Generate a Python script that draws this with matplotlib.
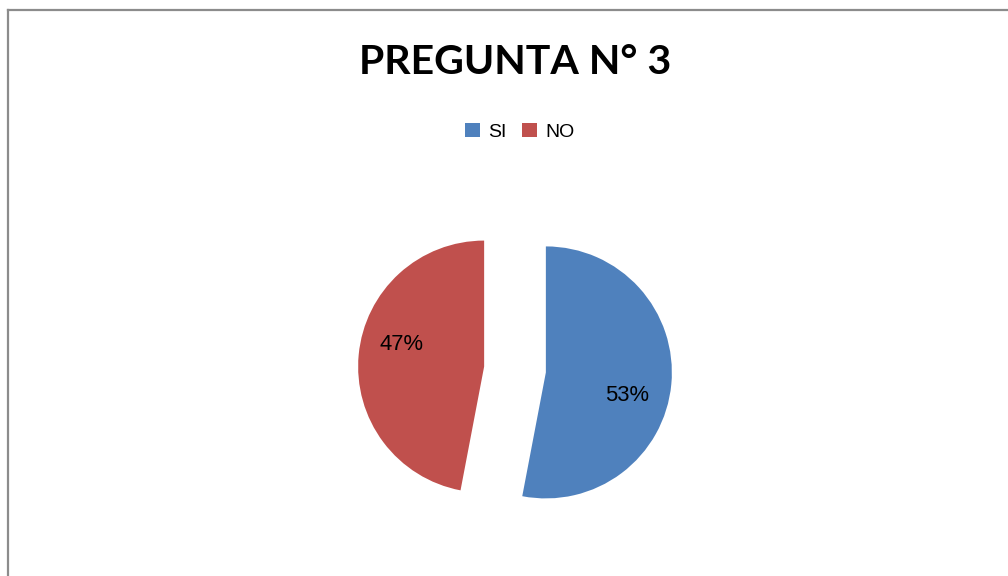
import matplotlib
matplotlib.use("Agg")
import matplotlib.pyplot as plt
from matplotlib.patches import Rectangle
from matplotlib.lines import Line2D

title = "PREGUNTA N° 3"
categories = ["SI", "NO"]
values = [53, 47]
colors = ["#4F81BD", "#C0504D"]

W, H = 1008, 576
fig = plt.figure(figsize=(W / 100, H / 100), dpi=100)
ax = fig.add_axes([0, 0, 1, 1])
ax.set_xlim(0, W)
ax.set_ylim(0, H)
ax.set_aspect("equal")
ax.axis("off")

# border (top and left visible)
ax.add_line(Line2D([8, 8], [0, H - 10], color="#8c8c8c", lw=1.6))
ax.add_line(Line2D([8, W], [H - 10, H - 10], color="#8c8c8c", lw=1.6))

cx, cy, r = 515, H - 369.5, 126
explode_px = 31
wedges, _ = ax.pie(values, colors=colors, startangle=90, counterclock=False,
                   explode=[explode_px, explode_px], center=(cx, cy), radius=r,
                   wedgeprops=dict(linewidth=0))
ax.set_xlim(0, W)
ax.set_ylim(0, H)

# percentage labels
label_offsets = [(81, -23), (-83, 22)]
for w, v, (dx, dy) in zip(wedges, values, label_offsets):
    wcx, wcy = w.center
    ax.text(wcx + dx, wcy + dy, f"{v}%", ha="center", va="center",
            fontsize=15.8, family=["Liberation Sans", "DejaVu Sans"], color="black")

fig.text(515 / W, 1 - 63 / H, title, ha="center", va="center", fontsize=29.5,
         fontweight="bold", family=["Lato", "Liberation Sans", "DejaVu Sans"])

handles = [Rectangle((0, 0), 1, 1, facecolor=c, edgecolor="none") for c in colors]
fig.legend(handles, categories, loc="center", bbox_to_anchor=(519.5 / W, 1 - 132 / H),
           ncol=2, frameon=False, borderpad=0, handlelength=0.77, handleheight=0.77,
           handletextpad=0.42, columnspacing=0.8,
           prop=dict(family=["Liberation Sans", "DejaVu Sans"], size=14))

fig.savefig("out.png", dpi=100)
